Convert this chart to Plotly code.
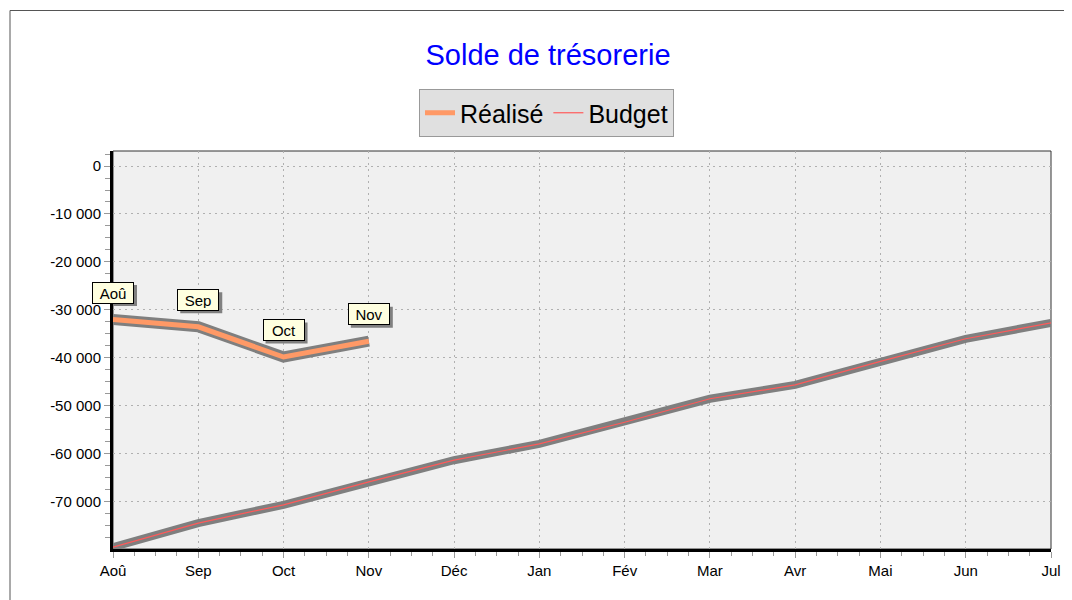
import plotly.graph_objects as go

months = ["Aoû", "Sep", "Oct", "Nov", "Déc", "Jan", "Fév", "Mar", "Avr", "Mai", "Jun", "Jul"]
realise = [-32000, -33500, -39800, -36500]
budget = [-79400, -74400, -70600, -65800, -61300, -57900, -53400, -48500, -45600, -40700, -36000, -32700]
ytick_vals = [0, -10000, -20000, -30000, -40000, -50000, -60000, -70000]
ytick_text = ["0", "-10 000", "-20 000", "-30 000", "-40 000", "-50 000", "-60 000", "-70 000"]

xi = list(range(len(months)))
xr = xi[:len(realise)]

FONT = "Liberation Sans, Arial, sans-serif"
Y0, Y1 = -79800, 3125

fig = go.Figure()
fig.add_trace(go.Scatter(x=xi, y=budget, mode="lines", line=dict(color="#7f7f7f", width=8),
                         showlegend=False, hoverinfo="skip"))
fig.add_trace(go.Scatter(x=xr, y=realise, mode="lines", line=dict(color="#7f7f7f", width=11),
                         showlegend=False, hoverinfo="skip"))
fig.add_trace(go.Scatter(x=xr, y=realise, mode="lines", name="Réalisé",
                         line=dict(color="#ff9966", width=5)))
fig.add_trace(go.Scatter(x=xi, y=budget, mode="lines", name="Budget",
                         line=dict(color="#ff5a5a", width=1.2)))

# labels with shadow boxes
for i, v in zip(xr, realise):
    fig.add_shape(type="rect", xref="x", yref="y", xsizemode="pixel", ysizemode="pixel",
                  xanchor=i, yanchor=v, x0=-18, x1=24, y0=13.5, y1=34.5,
                  fillcolor="#808080", line=dict(width=0), layer="above")
    fig.add_annotation(x=i, y=v, text=months[i], showarrow=False, xshift=0, yshift=27,
                       font=dict(family=FONT, size=15, color="black"),
                       bgcolor="#ffffe0", bordercolor="black", borderwidth=1,
                       borderpad=2, width=36, height=16)

# thin border of plot
fig.add_shape(type="rect", xref="paper", yref="paper", x0=0, x1=1, y0=0, y1=1,
              line=dict(color="#333333", width=1), layer="below")
# outer frame
fig.add_shape(type="rect", xref="paper", yref="paper", x0=(10 - 113) / 938, x1=(1090 - 113) / 938,
              y0=(549 - 620) / 398, y1=(549 - 10.5) / 398,
              line=dict(color="#555555", width=1))

GRID = dict(showgrid=True, gridcolor="#b0b0b0", griddash="2px,4px", gridwidth=1)

fig.update_layout(
    width=1064, height=592,
    margin=dict(l=105, r=21, t=143, b=51),
    paper_bgcolor="white", plot_bgcolor="#f0f0f0",
    font=dict(family=FONT, size=15, color="black"),
    title=dict(text="Solde de trésorerie", x=(548 - 113) / 938, xref="paper", xanchor="center",
               y=1 - 47 / 592, yanchor="middle",
               font=dict(family=FONT, size=29, color="#0000ff")),
    legend=dict(orientation="h", x=(546.5 - 113) / 938, xanchor="center", y=(549 - 89) / 398,
                yanchor="top", bgcolor="#e0e0e0", bordercolor="#999999", borderwidth=1,
                font=dict(family=FONT, size=25, color="black"), itemwidth=30),
    xaxis=dict(range=[0, 11], tickvals=xi, ticktext=months, **GRID,
               showline=True, linecolor="black", linewidth=3,
               ticks="outside", ticklen=6, tickcolor="#999999", zeroline=False,
               tickfont=dict(size=15),
               minor=dict(dtick=0.25, tick0=0, ticks="outside", ticklen=4, tickcolor="#999999", showgrid=False)),
    yaxis=dict(range=[Y0, Y1], tickvals=ytick_vals, ticktext=ytick_text, **GRID,
               showline=True, linecolor="black", linewidth=3,
               ticks="outside", ticklen=6, tickcolor="#999999", zeroline=False,
               tickfont=dict(size=15),
               minor=dict(dtick=2500, tick0=0, ticks="outside", ticklen=5, tickcolor="#999999", showgrid=False)),
)

fig.write_html("out.html")
